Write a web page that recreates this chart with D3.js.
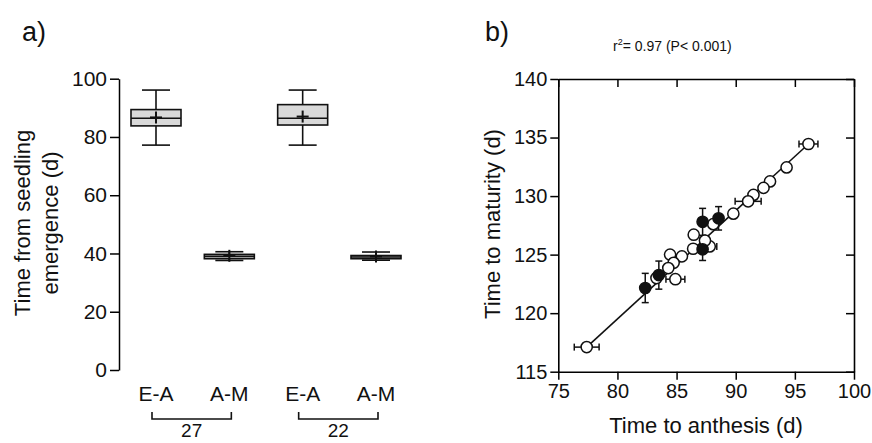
<!DOCTYPE html>
<html>
<head>
<meta charset="utf-8">
<script src="https://cdn.jsdelivr.net/npm/d3@7"></script>
<style>
  body { margin: 0; background: #fff; }
  svg { display: block; font-family: Arial, "Liberation Sans", sans-serif; }
</style>
</head>
<body>
<svg id="chart" width="872" height="443"></svg>
<script>
// panel a: box plots
var categories = ["E-A 27", "A-M 27", "E-A 22", "A-M 22"];
var catLabels = ["E-A", "A-M", "E-A", "A-M"];
var boxMin = [77.2, 37.6, 77.2, 37.7];
var boxQ1 = [83.8, 38.2, 84.1, 38.2];
var boxMedian = [86.4, 39.0, 86.4, 38.8];
var boxQ3 = [89.4, 39.7, 91.1, 39.3];
var boxMax = [96.1, 40.6, 96.1, 40.5];
var boxMean = [86.7, 39.2, 87.0, 39.0];
var groupLabels = ["27", "22"];
var yTicksA = [0, 20, 40, 60, 80, 100];

// panel b: scatter (time to anthesis vs time to maturity)
var openX = [77.4, 96.15, 94.3, 92.9, 92.35, 91.5, 91.05, 89.8, 88.1, 86.45, 87.8, 86.4, 84.45, 85.45, 84.75, 84.3, 84.9, 83.3, 87.4];
var openY = [117.1, 134.45, 132.45, 131.25, 130.7, 130.1, 129.55, 128.5, 127.6, 126.7, 125.7, 125.5, 125.0, 124.85, 124.3, 123.85, 122.9, 123.0, 126.2];
var openXErr = [1.05, 0.8, 0.3, 0.3, 0.3, 0.4, 1.1, 0.5, 0.4, 0.3, 0.6, 0.3, 0.3, 0.4, 0.3, 0.3, 0.8, 0.4, 0.3];
var filledX = [82.35, 83.5, 87.2, 88.55, 87.2];
var filledY = [122.15, 123.25, 127.8, 128.1, 125.45];
var filledYErr = [1.25, 1.2, 1.15, 1.0, 0.95];
var filledXErr = [0.3, 0.3, 0.2, 0.3, 0.2];
var fitX = [77.4, 96.15];
var fitY = [117.1, 134.45];
var xTicksB = [75, 80, 85, 90, 95, 100];
var yTicksB = [115, 120, 125, 130, 135, 140];

var svg = d3.select('#chart');

// ---------- panel a ----------
var yA = d3.scaleLinear().domain([0, 100]).range([370, 78.7]);
var xA = d3.scalePoint().domain(categories).range([156, 376]);
var boxW = 50, capW = 28;

var axisAG = svg.append('g').attr('transform', 'translate(119,0)');
axisAG.call(d3.axisLeft(yA).tickValues(yTicksA).tickSize(9).tickPadding(3).tickSizeOuter(0));
axisAG.select('.domain').attr('stroke', '#000').attr('stroke-width', 1.5);
axisAG.selectAll('.tick line').attr('stroke-width', 1.5);
axisAG.selectAll('.tick text').attr('font-size', 21).attr('fill', '#111').attr('font-family', 'Arial, "Liberation Sans", sans-serif');

var boxG = svg.append('g');
categories.forEach(function(c, i) {
    var cx = xA(c);
    var g = boxG.append('g').attr('stroke', '#111').attr('stroke-width', 1.6);
    g.append('line').attr('x1', cx).attr('x2', cx).attr('y1', yA(boxMax[i])).attr('y2', yA(boxMin[i]));
    g.append('line').attr('x1', cx - capW / 2).attr('x2', cx + capW / 2).attr('y1', yA(boxMax[i])).attr('y2', yA(boxMax[i]));
    g.append('line').attr('x1', cx - capW / 2).attr('x2', cx + capW / 2).attr('y1', yA(boxMin[i])).attr('y2', yA(boxMin[i]));
    g.append('rect')
        .attr('x', cx - boxW / 2).attr('width', boxW)
        .attr('y', yA(boxQ3[i])).attr('height', yA(boxQ1[i]) - yA(boxQ3[i]))
        .attr('fill', '#d9d9d9');
    g.append('line').attr('x1', cx - boxW / 2).attr('x2', cx + boxW / 2).attr('y1', yA(boxMedian[i])).attr('y2', yA(boxMedian[i]));
    // mean cross
    g.append('line').attr('x1', cx - 6).attr('x2', cx + 6).attr('y1', yA(boxMean[i])).attr('y2', yA(boxMean[i])).attr('stroke-width', 2);
    g.append('line').attr('x1', cx).attr('x2', cx).attr('y1', yA(boxMean[i]) - 6).attr('y2', yA(boxMean[i]) + 6).attr('stroke-width', 2);
});

svg.append('g').selectAll('text')
    .data(categories)
    .enter()
    .append('text')
    .attr('x', function(d) { return xA(d) })
    .attr('y', 401)
    .attr('text-anchor', 'middle')
    .attr('font-size', 21)
    .attr('fill', '#111')
    .text(function(d, i) { return catLabels[i] });

// group brackets
groupLabels.forEach(function(lbl, k) {
    var x1 = xA(categories[k * 2]) - 4, x2 = xA(categories[k * 2 + 1]) + 2;
    svg.append('path')
        .attr('d', 'M' + x1 + ',412V419H' + x2 + 'V412')
        .attr('fill', 'none').attr('stroke', '#111').attr('stroke-width', 1.6);
    svg.append('text')
        .attr('x', (x1 + x2) / 2).attr('y', 437)
        .attr('text-anchor', 'middle').attr('font-size', 19).attr('fill', '#111')
        .text(lbl);
});

svg.append('text').attr('x', 22).attr('y', 41).attr('font-size', 27).attr('fill', '#111').text('a)');

var ylabA = svg.append('text')
    .attr('transform', 'translate(0,223) rotate(-90)')
    .attr('text-anchor', 'middle')
    .attr('font-size', 22)
    .attr('fill', '#111');
ylabA.append('tspan').attr('x', 0).attr('y', 30).text('Time from seedling');
ylabA.append('tspan').attr('x', 0).attr('y', 58).text('emergence (d)');

// ---------- panel b ----------
var xB = d3.scaleLinear().domain([75, 100]).range([558.3, 854]);
var yB = d3.scaleLinear().domain([115, 140]).range([371.7, 79]);

function styleAxis(g, showText) {
    g.select('.domain').attr('stroke', '#000').attr('stroke-width', 1.6);
    g.selectAll('.tick line').attr('stroke-width', 1.5);
    g.selectAll('.tick text').attr('font-size', 20).attr('fill', '#111')
        .attr('font-family', 'Arial, "Liberation Sans", sans-serif');
    if (!showText) g.selectAll('.tick text').remove();
}

var bottomB = svg.append('g').attr('transform', 'translate(0,371.7)')
    .call(d3.axisBottom(xB).tickValues(xTicksB).tickSize(8).tickPadding(4).tickSizeOuter(0));
styleAxis(bottomB, true);
var leftB = svg.append('g').attr('transform', 'translate(558.3,0)')
    .call(d3.axisLeft(yB).tickValues(yTicksB).tickSize(8).tickPadding(3).tickSizeOuter(0));
styleAxis(leftB, true);
var topB = svg.append('g').attr('transform', 'translate(0,79)')
    .call(d3.axisBottom(xB).tickValues(xTicksB).tickSize(8).tickSizeOuter(0));
styleAxis(topB, false);
var rightB = svg.append('g').attr('transform', 'translate(854,0)')
    .call(d3.axisLeft(yB).tickValues(yTicksB).tickSize(8).tickSizeOuter(0));
styleAxis(rightB, false);

// regression line
svg.append('line')
    .attr('x1', xB(fitX[0])).attr('y1', yB(fitY[0]))
    .attr('x2', xB(fitX[1])).attr('y2', yB(fitY[1]))
    .attr('stroke', '#111').attr('stroke-width', 1.6);

var errG = svg.append('g').attr('stroke', '#111').attr('stroke-width', 1.5);
function hErr(x, y, e) {
    if (xB(x + e) - xB(x) < 6.5) return;
    errG.append('line').attr('x1', xB(x - e)).attr('x2', xB(x + e)).attr('y1', yB(y)).attr('y2', yB(y));
    errG.append('line').attr('x1', xB(x - e)).attr('x2', xB(x - e)).attr('y1', yB(y) - 3.5).attr('y2', yB(y) + 3.5);
    errG.append('line').attr('x1', xB(x + e)).attr('x2', xB(x + e)).attr('y1', yB(y) - 3.5).attr('y2', yB(y) + 3.5);
}
function vErr(x, y, e) {
    errG.append('line').attr('x1', xB(x)).attr('x2', xB(x)).attr('y1', yB(y - e)).attr('y2', yB(y + e));
    errG.append('line').attr('x1', xB(x) - 3.5).attr('x2', xB(x) + 3.5).attr('y1', yB(y - e)).attr('y2', yB(y - e));
    errG.append('line').attr('x1', xB(x) - 3.5).attr('x2', xB(x) + 3.5).attr('y1', yB(y + e)).attr('y2', yB(y + e));
}
openX.forEach(function(x, i) { hErr(x, openY[i], openXErr[i]) });
filledX.forEach(function(x, i) { hErr(x, filledY[i], filledXErr[i]); vErr(x, filledY[i], filledYErr[i]) });

svg.append('g').selectAll('circle')
    .data(openX)
    .enter()
    .append('circle')
    .attr('cx', function(d) { return xB(d) })
    .attr('cy', function(d, i) { return yB(openY[i]) })
    .attr('r', 5.6)
    .attr('fill', '#fff')
    .attr('stroke', '#111')
    .attr('stroke-width', 1.5);

svg.append('g').selectAll('circle')
    .data(filledX)
    .enter()
    .append('circle')
    .attr('cx', function(d) { return xB(d) })
    .attr('cy', function(d, i) { return yB(filledY[i]) })
    .attr('r', 5.6)
    .attr('fill', '#111')
    .attr('stroke', '#111')
    .attr('stroke-width', 1.5);

svg.append('text').attr('x', 485).attr('y', 41).attr('font-size', 27).attr('fill', '#111').text('b)');

var rText = svg.append('text').attr('x', 613).attr('y', 51).attr('font-size', 14).attr('fill', '#111');
rText.append('tspan').text('r');
rText.append('tspan').attr('dy', -6).attr('font-size', 9).text('2');
rText.append('tspan').attr('dy', 6).text('= 0.97 (P< 0.001)');

svg.append('text')
    .attr('transform', 'translate(500,224) rotate(-90)')
    .attr('text-anchor', 'middle')
    .attr('font-size', 22)
    .attr('fill', '#111')
    .text('Time to maturity (d)');

svg.append('text')
    .attr('x', 706).attr('y', 433)
    .attr('text-anchor', 'middle')
    .attr('font-size', 22)
    .attr('fill', '#111')
    .text('Time to anthesis (d)');
</script>
</body>
</html>
